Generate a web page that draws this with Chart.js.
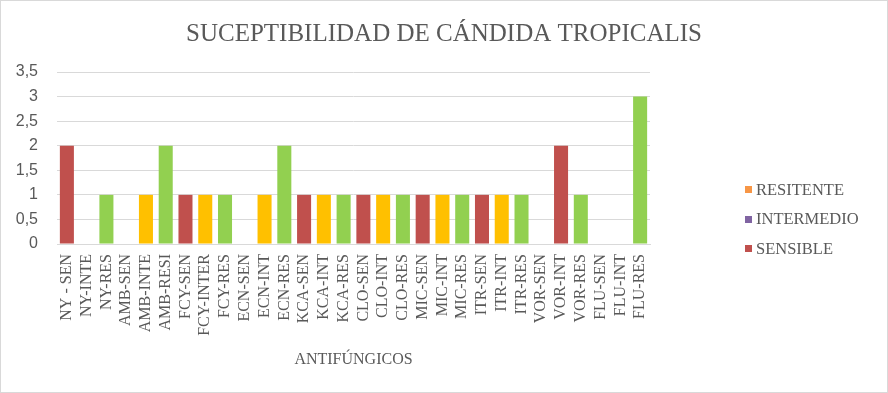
<!DOCTYPE html>
<html>
<head>
<meta charset="utf-8">
<script src="https://cdn.jsdelivr.net/npm/chart.js@4.4.1/dist/chart.umd.min.js"></script>
<style>
  body { margin: 0; background: #fff; }
  #wrap { position: relative; width: 888px; height: 393px; box-sizing: border-box; border: 1px solid #d9d9d9; }
  #legend { position: absolute; left: 744px; top: 174px; font-family: "Liberation Serif", serif; font-size: 16.5px; color: #595959; }
  #legend div { height: 29.5px; display: flex; align-items: center; }
  #legend span { display: inline-block; width: 7px; height: 7px; margin-right: 4px; }
</style>
</head>
<body>
<div id="wrap">
  <canvas id="myChart"></canvas>
  <div id="legend"></div>
</div>
<script>
var categories = ["NY - SEN", "NY-INTE", "NY-RES", "AMB-SEN", "AMB-INTE", "AMB-RESI",
  "FCY-SEN", "FCY-INTER", "FCY-RES", "ECN-SEN", "ECN-INT", "ECN-RES",
  "KCA-SEN", "KCA-INT", "KCA-RES", "CLO-SEN", "CLO-INT", "CLO-RES",
  "MIC-SEN", "MIC-INT", "MIC-RES", "ITR-SEN", "ITR-INT", "ITR-RES",
  "VOR-SEN", "VOR-INT", "VOR-RES", "FLU-SEN", "FLU-INT", "FLU-RES"];
var sensible   = [2,0,0,0,0,0,1,0,0,0,0,0,1,0,0,1,0,0,1,0,0,1,0,0,0,2,0,0,0,0];
var intermedio = [0,0,0,0,1,0,0,1,0,0,1,0,0,1,0,0,1,0,0,1,0,0,1,0,0,0,0,0,0,0];
var resistente = [0,0,1,0,0,2,0,0,1,0,0,2,0,0,1,0,0,1,0,0,1,0,0,1,0,0,1,0,0,3];
var yTicks = [0, 0.5, 1, 1.5, 2, 2.5, 3, 3.5];

var serif = "'Liberation Serif', 'Times New Roman', serif";
var sans = "'Liberation Sans', Arial, sans-serif";

// legend drawn as html (colours differ from the bars, like the original)
var legendItems = [
  { text: "RESITENTE", color: "#F79646" },
  { text: "INTERMEDIO", color: "#8064A2" },
  { text: "SENSIBLE", color: "#C0504D" }
];
document.getElementById("legend").innerHTML = legendItems.map(function (it) {
  return '<div><span style="background:' + it.color + '"></span>' + it.text + '</div>';
}).join("");

var ctx = document.getElementById("myChart");
var myChart = new Chart(ctx, {
  type: "bar",
  data: {
    labels: categories,
    datasets: [
      { label: "SENSIBLE", data: sensible, backgroundColor: "#C0504D" },
      { label: "INTERMEDIO", data: intermedio, backgroundColor: "#FFC000" },
      { label: "RESITENTE", data: resistente, backgroundColor: "#92D050" }
    ]
  },
  options: {
    responsive: true,
    maintainAspectRatio: false,
    animation: false,
    layout: { padding: { left: 0, right: 0, top: 12, bottom: 19 } },
    datasets: { bar: { categoryPercentage: 1, barPercentage: 0.71, borderWidth: 0 } },
    plugins: {
      legend: { display: false },
      tooltip: { enabled: false },
      title: {
        display: true,
        text: "SUCEPTIBILIDAD DE CÁNDIDA TROPICALIS",
        color: "#595959",
        font: { family: serif, size: 25, weight: "normal" },
        padding: { top: 6, bottom: 23 }
      }
    },
    scales: {
      x: {
        stacked: true,
        grid: { display: false, drawTicks: false },
        border: { color: "#d9d9d9" },
        afterFit: function (axis) { axis.paddingLeft = 0; axis.paddingRight = 0; },
        ticks: {
          color: "#595959",
          font: { family: serif, size: 16 },
          minRotation: 90,
          maxRotation: 90,
          autoSkip: false,
          padding: 10
        },
        title: {
          display: true,
          text: "ANTIFÚNGICOS",
          color: "#595959",
          font: { family: serif, size: 16 },
          padding: { top: 4 }
        }
      },
      y: {
        stacked: true,
        min: 0,
        max: 3.5,
        grid: { color: "#d9d9d9", drawTicks: false },
        border: { display: false },
        afterFit: function (axis) { axis.width = 56; },
        afterBuildTicks: function (axis) {
          axis.ticks = yTicks.map(function (v) { return { value: v }; });
        },
        ticks: {
          color: "#595959",
          font: { family: sans, size: 16 },
          padding: 19,
          callback: function (v) { return String(v).replace(".", ","); }
        }
      },
      // empty axis on the right, only keeps room for the legend
      side: {
        position: "right",
        grid: { display: false, drawTicks: false },
        border: { display: false },
        ticks: { display: false },
        afterFit: function (axis) { axis.width = 237; }
      }
    }
  }
});
</script>
</body>
</html>
